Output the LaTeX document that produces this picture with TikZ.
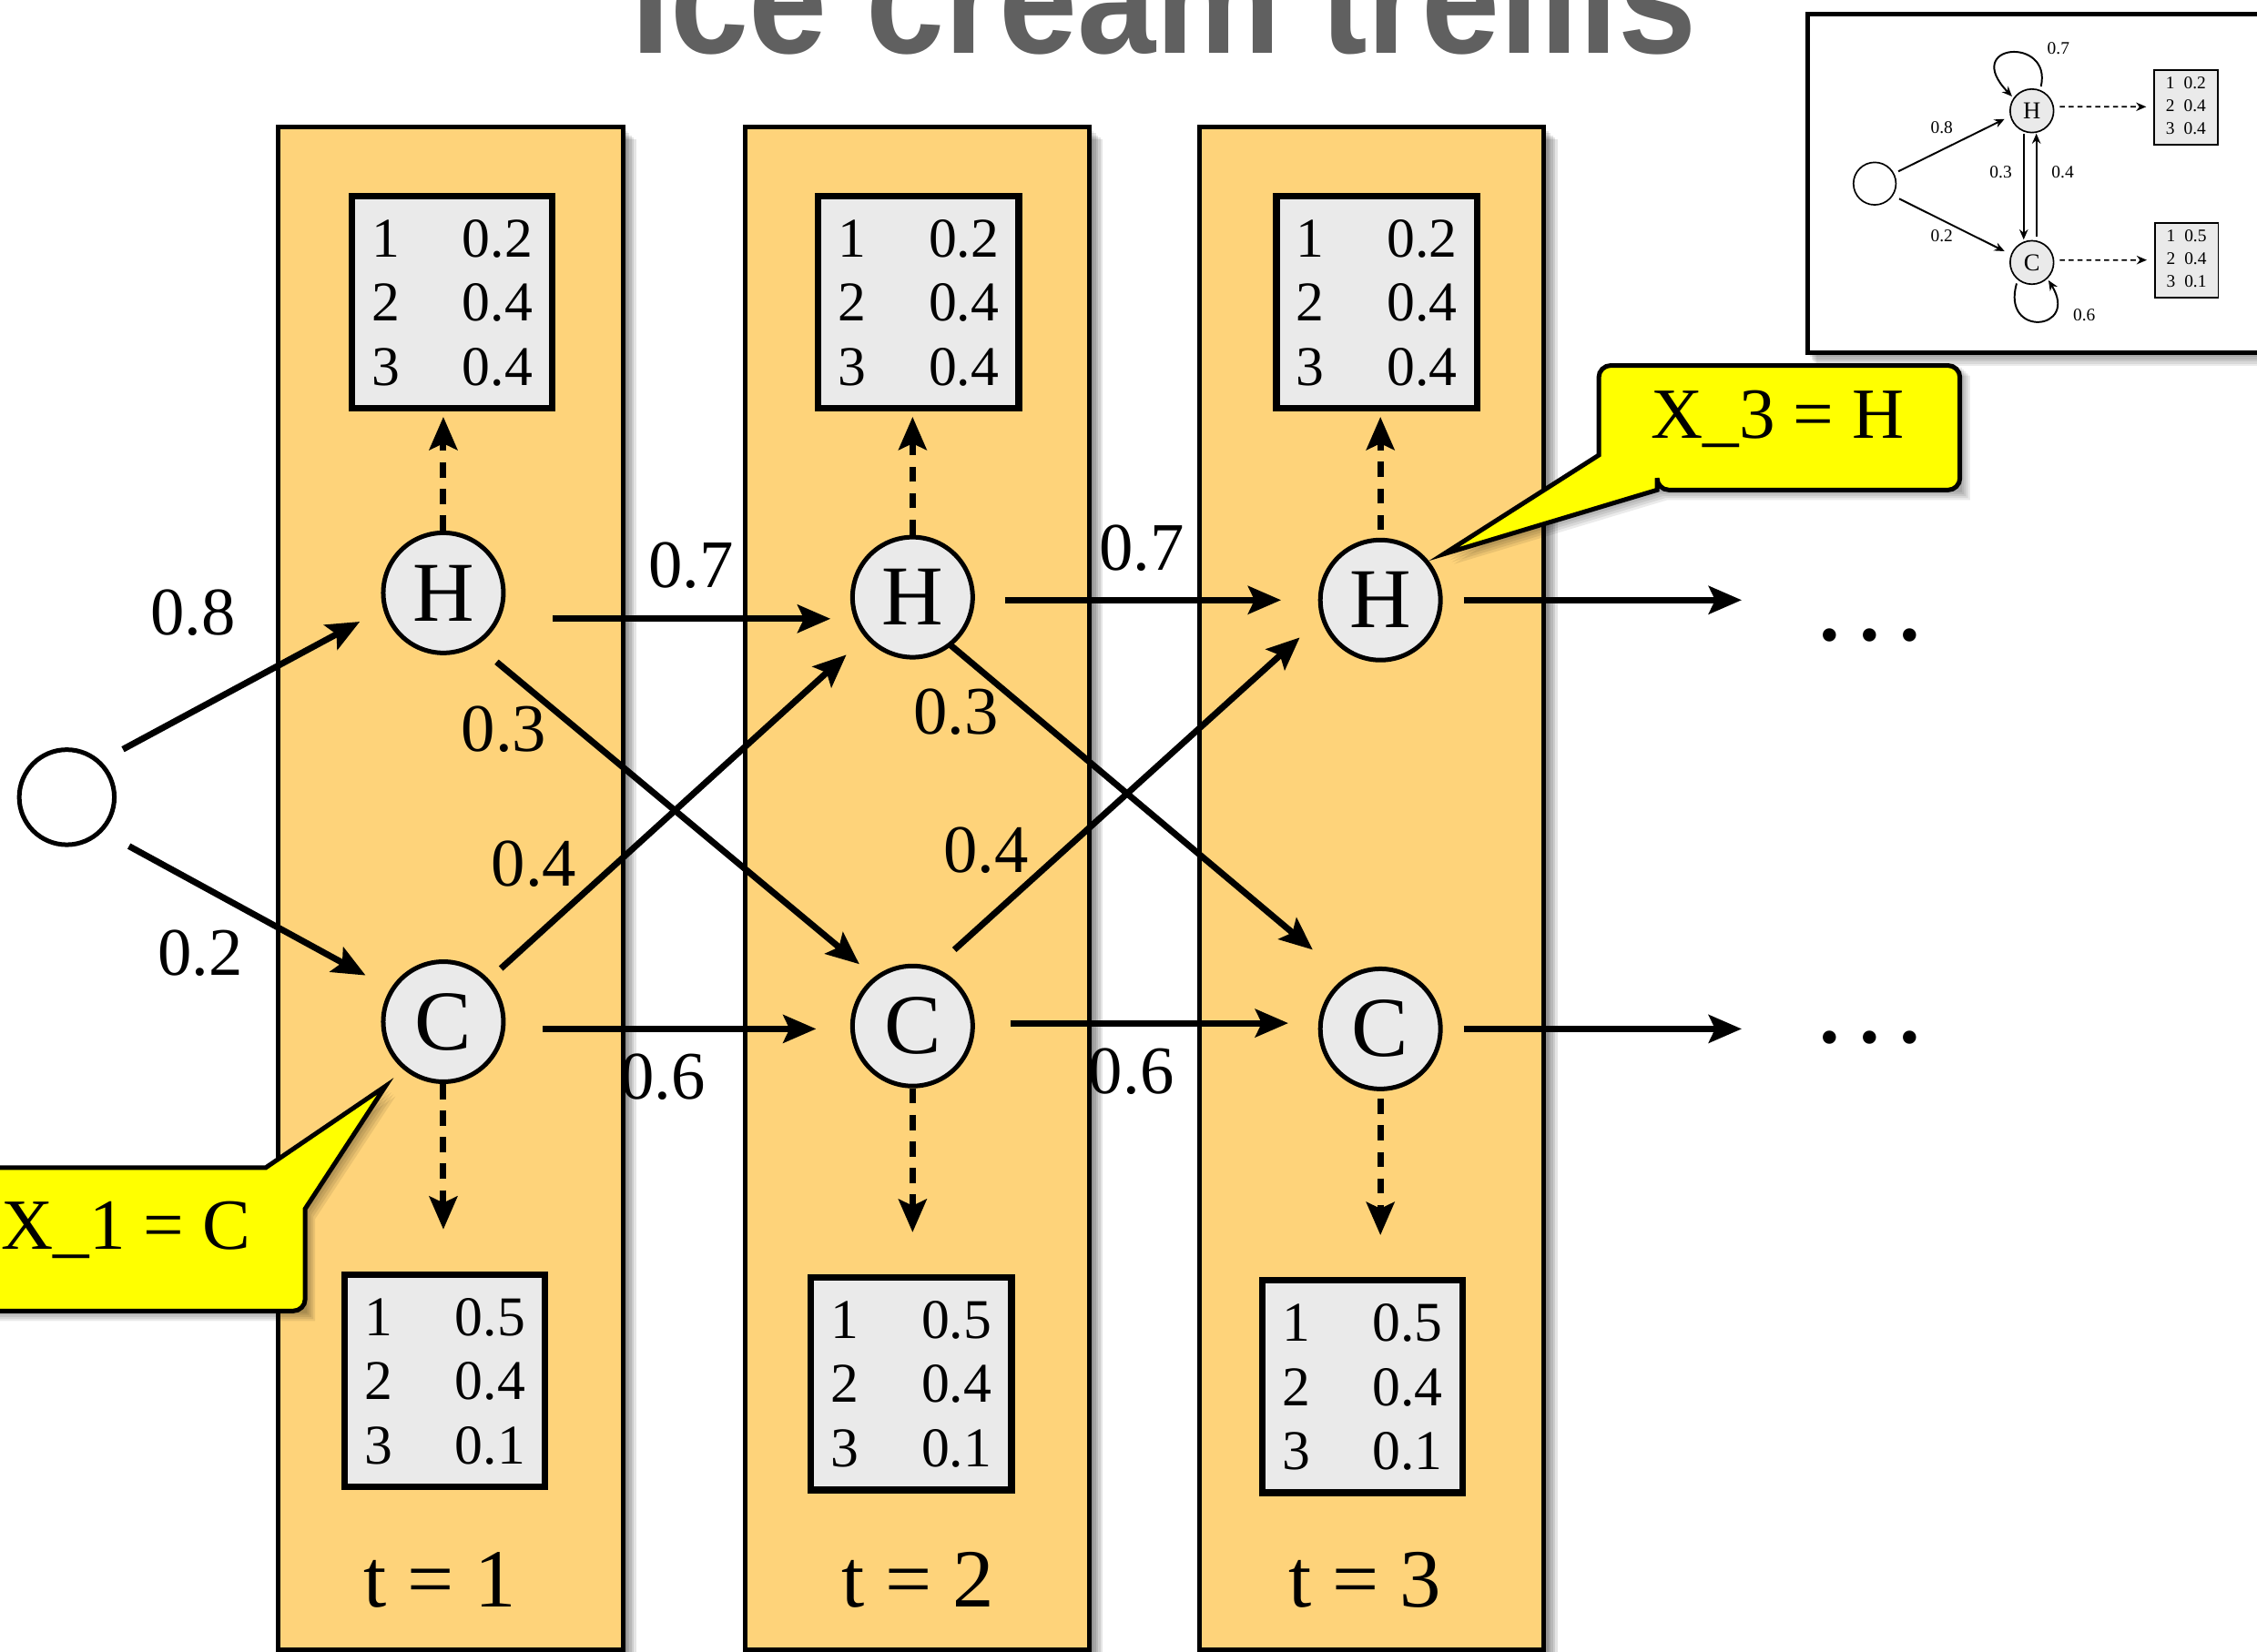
\documentclass[tikz,border=0pt]{standalone}
\usepackage{fontspec}
\setmainfont{Liberation Serif}
\newfontfamily\titlefont{Liberation Sans}
\usetikzlibrary{arrows.meta,calc}
\definecolor{colfill}{RGB}{254,211,122}
\definecolor{nodefill}{RGB}{234,234,234}
\definecolor{callyellow}{RGB}{255,255,0}
\definecolor{titlegray}{RGB}{96,96,96}
\newcommand\emtab[3]{\raisebox{-2.4pt}[\height][\depth]{\begin{tabular}{@{}l@{\hspace{24.8pt}}l@{}}1&#1\\2&#2\\3&#3\end{tabular}}}
\newcommand\iemtab[3]{\begin{tabular}{@{}l@{\hspace{3.6pt}}l@{}}1&#1\\2&#2\\3&#3\end{tabular}}
\begin{document}
\begin{tikzpicture}[x=0.02cm,y=-0.02cm,
  col/.style={fill=colfill,draw=black,line width=1.8pt},
  emis/.style={rectangle,fill=nodefill,draw=black,line width=2.6pt,minimum width=79.4pt,minimum height=84.1pt,inner sep=0pt,font=\fontsize{22.2}{25.4}\selectfont},
  state/.style={circle,fill=nodefill,draw=black,line width=1.8pt,minimum size=47.5pt,inner sep=0pt,font=\fontsize{33.7}{36}\selectfont},
  startst/.style={circle,fill=white,draw=black,line width=1.8pt,minimum size=37.6pt,inner sep=0pt},
  arr/.style={line width=2.5pt,-{Stealth[length=13pt,width=11pt,inset=2.5pt]}},
  darr/.style={line width=2.5pt,dash pattern=on 6pt off 4.5pt,-{Stealth[length=13pt,width=11pt,inset=2.5pt]}},
  elab/.style={font=\fontsize{26.9}{30}\selectfont,anchor=base,inner sep=0pt},
  tlab/.style={font=\fontsize{32.7}{36}\selectfont,anchor=base,inner sep=0pt},
  clab/.style={font=\fontsize{28.5}{32}\selectfont,anchor=base,inner sep=0pt},
  dots/.style={font=\fontsize{44}{44}\selectfont,anchor=base,inner sep=0pt},
  callout/.style={fill=callyellow,draw=black,line width=1.8pt},
  istate/.style={circle,fill=nodefill,draw=black,line width=0.6pt,minimum size=17.2pt,inner sep=0pt,font=\fontsize{9.6}{10}\selectfont},
  istart/.style={circle,fill=white,draw=black,line width=0.6pt,minimum size=16.8pt,inner sep=0pt},
  iemis/.style={rectangle,fill=nodefill,draw=black,line width=0.6pt,minimum width=25.1pt,minimum height=29.6pt,inner sep=0pt,font=\fontsize{7}{9}\selectfont},
  iarr/.style={line width=0.7pt,-{Stealth[length=4pt,width=3.4pt]}},
  idarr/.style={line width=0.6pt,dash pattern=on 2pt off 1.5pt,-{Stealth[length=4pt,width=3.4pt]}},
  ilab/.style={font=\fontsize{7}{8}\selectfont,inner sep=0pt}
]
\useasboundingbox (0,0) rectangle (1568,1148);
\fill[white] (0,0) rectangle (1568,1148);

% title
\node[font=\titlefont\bfseries\fontsize{62.4}{70}\selectfont,text=titlegray,anchor=base,inner sep=0pt] (title) at (808.5,37) {\scalebox{0.893}[1]{Ice cream trellis}};

% column shadows and columns
\foreach \c in {193.5,517.5,833.5}{
  \foreach \d in {1,...,6}{
    \fill[black,opacity=0.1] ({\c+\d*1.6},{88+\d*1.5}) rectangle ({\c+239+\d*1.6},1160);
  }
}
\draw[col] (193.5,88) rectangle (432.7,1146.5);
\draw[col] (517.5,88) rectangle (756.7,1146.5);
\draw[col] (833.5,88) rectangle (1072.7,1146.5);

% emission tables
\node[emis] (T1) at (314,210) {\emtab{0.2}{0.4}{0.4}};
\node[emis] (T2) at (638,210) {\emtab{0.2}{0.4}{0.4}};
\node[emis] (T3) at (956.5,210) {\emtab{0.2}{0.4}{0.4}};
\node[emis] (B1) at (309,959.5) {\emtab{0.5}{0.4}{0.1}};
\node[emis] (B2) at (633,961.5) {\emtab{0.5}{0.4}{0.1}};
\node[emis] (B3) at (946.5,963.5) {\emtab{0.5}{0.4}{0.1}};

% states
\node[startst] (S) at (46.4,554) {};
\node[state] (H1) at (308,412) {H};
\node[state] (H2) at (634,415) {H};
\node[state] (H3) at (959,417) {H};
\node[state] (C1) at (308,710) {C};
\node[state] (C2) at (634,713) {C};
\node[state] (C3) at (959,715) {C};
\coordinate (EH) at (1210,417);
\coordinate (EC) at (1210,715);

% transitions
\draw[arr] ([shift={(39,-33.3)}]S.center) -- ([shift={(-58,20)}]H1.center);
\draw[arr] ([shift={(43.2,34)}]S.center) -- ([shift={(-54,-32.2)}]C1.center);
\draw[arr] ([shift={(76,18)}]H1.center) -- ([shift={(-57,15)}]H2.center);
\draw[arr] ([shift={(69,5)}]C1.center) -- ([shift={(-67,2)}]C2.center);
\draw[arr] ([shift={(37,48)}]H1.center) -- ([shift={(-37,-43)}]C2.center);
\draw[arr] ([shift={(40,-37)}]C1.center) -- ([shift={(-46,40)}]H2.center);
\draw[arr] ([shift={(64,2)}]H2.center) -- ([shift={(-69,0)}]H3.center);
\draw[arr] ([shift={(68,-2)}]C2.center) -- ([shift={(-64,-4)}]C3.center);
\draw[arr] ([shift={(26,33)}]H2.center) -- ([shift={(-47,-55)}]C3.center);
\draw[arr] ([shift={(29,-53)}]C2.center) -- ([shift={(-56,26)}]H3.center);
\draw[arr] ([shift={(58,0)}]H3.center) -- (EH);
\draw[arr] ([shift={(58,0)}]C3.center) -- (EC);

% emissions
\draw[darr,shorten >=2pt] (H1.north) -- (H1.north |- T1.south);
\draw[darr,shorten >=2pt] (H2.north) -- (H2.north |- T2.south);
\draw[darr,shorten >=2pt] ([yshift=3pt]H3.north) -- (H3.north |- T3.south);
\draw[darr,shorten >=16.5pt] (C1.south) -- (C1.south |- B1.north);
\draw[darr,shorten >=16.5pt] (C2.south) -- (C2.south |- B2.north);
\draw[darr,shorten >=16.5pt] ([yshift=-3pt]C3.south) -- (C3.south |- B3.north);

% labels
\node[elab] (l08) at (134,441) {0.8};
\node[elab] (l02) at (139,678) {0.2};
\node[elab] (l07a) at (480,408) {0.7};
\node[elab] (l06a) at (460.5,763.5) {0.6};
\node[elab] (l03a) at (350,522) {0.3};
\node[elab] (l04a) at (371,616) {0.4};
\node[elab] (l07b) at (793,396) {0.7};
\node[elab] (l06b) at (786,760) {0.6};
\node[elab] (l03b) at (664,510) {0.3};
\node[elab] (l04b) at (685,606) {0.4};
\node[dots] (d1) at (1299,445.2) {.\hspace{5pt}.\hspace{5pt}.};
\node[dots] (d2) at (1299,724.5) {.\hspace{5pt}.\hspace{5pt}.};

% time labels
\node[tlab] (t1) at (305.6,1116.5) {t = 1};
\node[tlab] (t2) at (637.5,1116.5) {t = 2};
\node[tlab] (t3) at (948,1116.5) {t = 3};

% callout X_1
\foreach \d in {1,...,5}{
  \fill[black,opacity=0.08,shift={(\d*1.4,\d*1.4)}] (-20,811.5) -- (184.5,811.5) -- (267.8,754.8) -- (212,840) -- (212,911) -- (-20,911) -- cycle;
}
\draw[callout] (-20,811.5) -- (184.5,811.5) -- (267.8,754.8) -- (212,840) [rounded corners=4.7pt] -- (212,911) -- (-20,911) -- cycle;
\node[clab] (x1) at (87.5,868.2) {X\_1 = C};

% callout X_3
\foreach \d in {1,...,5}{
  \fill[black,opacity=0.08,shift={(\d*1.4,\d*1.4)}] (1151.2,340.5) -- (1003,385) -- (1110.7,316.3) -- (1110.7,254) -- (1361.6,254) -- (1361.6,340.5) -- cycle;
}
\draw[callout] (1151.2,340.5) -- (1003,385) -- (1110.7,316.3) [rounded corners=4.7pt] -- (1110.7,254) -- (1361.6,254) -- (1361.6,340.5) -- (1151.2,340.5) [sharp corners] -- cycle;
\node[clab] (x3) at (1235,304.7) {X\_3 = H};

% inset
\foreach \d in {1,...,5}{
  \fill[black,opacity=0.08] ({1256+\d*1.2},{8+\d*1.5}) rectangle (1600,{246.7+\d*1.5});
}
\draw[fill=white,line width=1.8pt] (1256,9.6) rectangle (1600,245);
\node[istart] (iS) at (1302.4,127.6) {};
\node[istate] (iH) at (1411.6,77) {H};
\node[istate] (iC) at (1411.6,182.4) {C};
\node[iemis] (iT1) at (1518.6,74.6) {\iemtab{0.2}{0.4}{0.4}};
\node[iemis] (iT2) at (1519,180.8) {\iemtab{0.5}{0.4}{0.1}};
\draw[iarr] ([shift={(16.4,-8.5)}]iS.center) -- ([shift={(-19,5.7)}]iH.center);
\draw[iarr] ([shift={(17,10.5)}]iS.center) -- ([shift={(-19,-7.8)}]iC.center);
\draw[iarr] ([shift={(-5.7,15.8)}]iH.center) -- ([shift={(-5.7,-15.9)}]iC.center);
\draw[iarr] ([shift={(3.1,-18)}]iC.center) -- ([shift={(3.1,15.8)}]iH.center);
\draw[iarr] ($(iH)+(6.3,-16.9)$) .. controls ($(iH)+(14.4,-52)$) and ($(iH)+(-49.6,-47)$) .. ($(iH)+(-13.8,-10)$);
\draw[iarr] ($(iC)+(-10.6,14.6)$) .. controls ($(iC)+(-21.6,52.6)$) and ($(iC)+(33.4,47.6)$) .. ($(iC)+(11.5,12.4)$);
\draw[idarr] ([shift={(19.4,-2.8)}]iH.center) -- ([shift={(-5,-0.4)}]iT1.west);
\draw[idarr] ([shift={(19.4,-1.7)}]iC.center) -- ([shift={(-5,-0.1)}]iT2.west);
\node[ilab] (il07) at (1430,33.7) {0.7};
\node[ilab] (il08) at (1349,88.6) {0.8};
\node[ilab] (il03) at (1390,119.6) {0.3};
\node[ilab] (il04) at (1433,119.6) {0.4};
\node[ilab] (il02) at (1349,164) {0.2};
\node[ilab] (il06) at (1448,219) {0.6};
\end{tikzpicture}
\end{document}
